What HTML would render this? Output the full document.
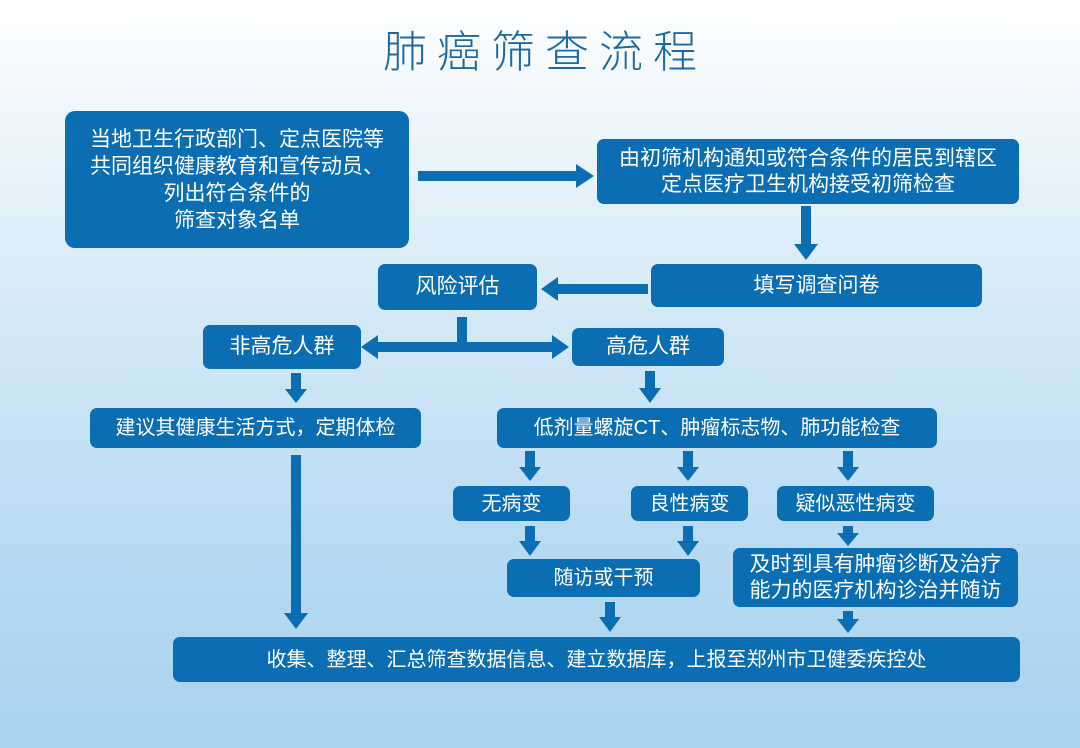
<!DOCTYPE html>
<html><head><meta charset="utf-8"><style>
body{margin:0;width:1080px;height:748px;overflow:hidden;position:relative;
background:linear-gradient(180deg,#ffffff 0%,#f4f9fd 10%,#d6eaf7 40%,#b6daf2 75%,#a8d2ef 100%);
font-family:"Liberation Sans","Noto Sans CJK SC",sans-serif;}
.b{position:absolute;background:#0b6db2;color:#fff;border-radius:7px;display:flex;align-items:center;justify-content:center;text-align:center;font-size:20px;line-height:26px;box-sizing:border-box}
h1{position:absolute;left:0;width:1080px;top:16px;margin:0;text-align:center;font-family:"Noto Sans CJK SC",sans-serif;font-weight:300;color:#1b6aa5;font-size:44px;letter-spacing:10px;padding-left:10px;box-sizing:border-box}
svg{position:absolute;left:0;top:0}
</style></head><body>
<h1>肺癌筛查流程</h1>
<svg width="1080" height="748" fill="#0b6db2" stroke="none">
<rect x="418" y="171" width="160" height="10"/><polygon points="576,164 594,176 576,188"/>
<rect x="801" y="206" width="10" height="40"/><polygon points="794,244 806,260 818,244"/>
<rect x="556" y="284" width="92" height="10"/><polygon points="558,277 541,289 558,301"/>
<rect x="457" y="317" width="10" height="30"/>
<rect x="376" y="342" width="178" height="10"/>
<polygon points="378,335 361,347 378,359"/><polygon points="552,335 569,347 552,359"/>
<rect x="291" y="373" width="10" height="18"/><polygon points="285,389 296,403 307,389"/>
<rect x="645" y="371" width="10" height="19"/><polygon points="639,388 650,403 661,388"/>
<rect x="291" y="455" width="10" height="160"/><polygon points="284,613 296,629 308,613"/>
<rect x="525" y="451" width="10" height="18"/><polygon points="519,467 530,481 541,467"/>
<rect x="683" y="451" width="10" height="18"/><polygon points="677,467 688,481 699,467"/>
<rect x="843" y="451" width="10" height="18"/><polygon points="837,467 848,481 859,467"/>
<rect x="525" y="526" width="10" height="17"/><polygon points="519,541 530,556 541,541"/>
<rect x="683" y="526" width="10" height="17"/><polygon points="677,541 688,556 699,541"/>
<rect x="843" y="526" width="10" height="10"/><polygon points="837,533 848,546 859,533"/>
<rect x="605" y="602" width="10" height="17"/><polygon points="599,617 610,632 621,617"/>
<rect x="843" y="611" width="10" height="10"/><polygon points="837,619 848,633 859,619"/>
</svg>
<div class="b" style="left:65px;top:111px;width:344px;height:137px;border-radius:10px;font-size:21px;line-height:27px">当地卫生行政部门、定点医院等<br>共同组织健康教育和宣传动员、<br>列出符合条件的<br>筛查对象名单</div>
<div class="b" style="left:597px;top:139px;width:422px;height:65px;font-size:21px">由初筛机构通知或符合条件的居民到辖区<br>定点医疗卫生机构接受初筛检查</div>
<div class="b" style="left:378px;top:264px;width:159px;height:46px;font-size:21px">风险评估</div>
<div class="b" style="left:651px;top:264px;width:331px;height:43px;font-size:21px">填写调查问卷</div>
<div class="b" style="left:203px;top:325px;width:158px;height:44px;font-size:21px">非高危人群</div>
<div class="b" style="left:572px;top:328px;width:152px;height:38px;font-size:21px">高危人群</div>
<div class="b" style="left:90px;top:408px;width:331px;height:40px">建议其健康生活方式，定期体检</div>
<div class="b" style="left:497px;top:408px;width:440px;height:40px">低剂量螺旋CT、肿瘤标志物、肺功能检查</div>
<div class="b" style="left:453px;top:486px;width:117px;height:35px">无病变</div>
<div class="b" style="left:631px;top:486px;width:117px;height:35px">良性病变</div>
<div class="b" style="left:777px;top:486px;width:157px;height:35px">疑似恶性病变</div>
<div class="b" style="left:507px;top:559px;width:193px;height:38px">随访或干预</div>
<div class="b" style="left:733px;top:548px;width:285px;height:59px;font-size:21px">及时到具有肿瘤诊断及治疗<br>能力的医疗机构诊治并随访</div>
<div class="b" style="left:173px;top:637px;width:847px;height:45px">收集、整理、汇总筛查数据信息、建立数据库，上报至郑州市卫健委疾控处</div>
</body></html>
